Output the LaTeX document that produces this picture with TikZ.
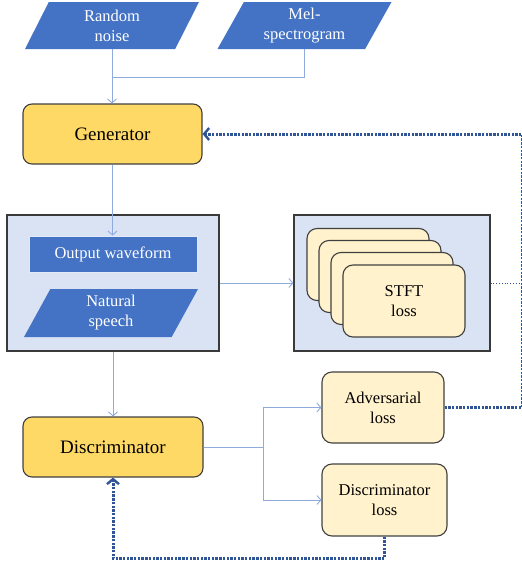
\documentclass[tikz,border=0pt]{standalone}
\usepackage{fontspec}
\setmainfont{Liberation Serif}
\usepackage{xcolor}
\usetikzlibrary{arrows.meta,shapes.geometric,positioning}
\definecolor{gold}{HTML}{FFD966}
\definecolor{cream}{HTML}{FFF2CC}
\definecolor{paleblue}{HTML}{DAE3F3}
\definecolor{midblue}{HTML}{4472C4}
\definecolor{linkblue}{HTML}{8FAADC}
\definecolor{loopblue}{HTML}{2F5597}
\definecolor{edgegray}{HTML}{404040}

\begin{document}
\begin{tikzpicture}[x=1pt,y=-1pt,
  txt/.style={font=\fontsize{16.5}{20}\selectfont,align=center},
  bigtxt/.style={font=\fontsize{19}{22}\selectfont,align=center},
  inshape/.style={trapezium,trapezium left angle=53,trapezium right angle=127,
    trapezium stretches body,fill=midblue,text=white,inner sep=0pt,
    minimum width=174pt,minimum height=47pt,txt},
  stage/.style={rectangle,rounded corners=9pt,fill=gold,draw=edgegray,line width=1.1pt,
    minimum width=179pt,minimum height=60pt,bigtxt},
  lossbox/.style={rectangle,rounded corners=10pt,fill=cream,draw=edgegray,line width=1.1pt,
    minimum width=122pt,minimum height=72pt,txt},
  panel/.style={rectangle,fill=paleblue,draw=edgegray!90!black,line width=1.2pt},
  link/.style={draw=linkblue,line width=0.9pt,-{Straight Barb[length=4pt,width=9pt]}},
  linkline/.style={draw=linkblue,line width=0.9pt},
  loop/.style={draw=loopblue,line width=3pt,dash pattern=on 2.4pt off 1.3pt,
    -{Straight Barb[length=5pt,width=12pt,line width=2.4pt]}},
  loopline/.style={draw=loopblue,line width=3pt,dash pattern=on 2.4pt off 1.3pt}]
\useasboundingbox (0,0) rectangle (522,565);

% inputs
\node[inshape] (noise) at (112,25.5) {Random\\noise};
\node[inshape] (mel) at (304.5,25.5) {Mel-\\spectrogram};
\node[stage] (gen) at (112.5,134) {Generator};

% middle panels
\node[panel,minimum width=212pt,minimum height=136pt] (outbox) at (113,283) {};
\node[rectangle,fill=midblue,draw=white!85!midblue,line width=0.8pt,text=white,txt,
  minimum width=168pt,minimum height=36pt] (wave) at (113,254) {Output waveform};
\node[inshape,minimum height=48pt] (speech) at (111,313) {Natural\\speech};
\node[panel,minimum width=196pt,minimum height=136pt] (stftbox) at (392,283) {};
\foreach \i in {0,...,2}
  \node[lossbox] (stft\i) at (368+12*\i,264.5+12*\i) {};
\node[lossbox] (stft3) at (404,301) {STFT\\loss};

% losses
\node[stage,minimum width=180pt] (disc) at (113,447) {Discriminator};
\node[lossbox,minimum height=71pt] (adv) at (383,407.5) {Adversarial\\loss};
\node[lossbox,minimum width=125pt] (dloss) at (384.5,500) {Discriminator\\loss};

\coordinate (join) at (112,77);
\coordinate (split) at (263,447);
\coordinate (rim) at (522,300);

% forward links
\draw[link] (noise.south) -- (noise.south |- gen.north);
\draw[linkline] (mel.south) |- (join);
\draw[link] (gen.south) -- (gen.south |- wave.north);
\draw[link] (outbox.east) -- (stftbox.west);
\draw[link] (outbox.south) -- (outbox.south |- disc.north);
\draw[link] (disc.east) -- (split) |- (adv.west);
\draw[link] (split) |- (dloss.west);

% feedback
\draw[loop] (adv.east) -- (adv.east -| rim) -- (rim |- gen.east) -- (gen.east);
\draw[loop] (dloss.south) -- ++(0,22) -| (disc.south);
\draw[draw=loopblue,line width=0.8pt,dotted] (stftbox.east) -- (stftbox.east -| rim);
\end{tikzpicture}
\end{document}
